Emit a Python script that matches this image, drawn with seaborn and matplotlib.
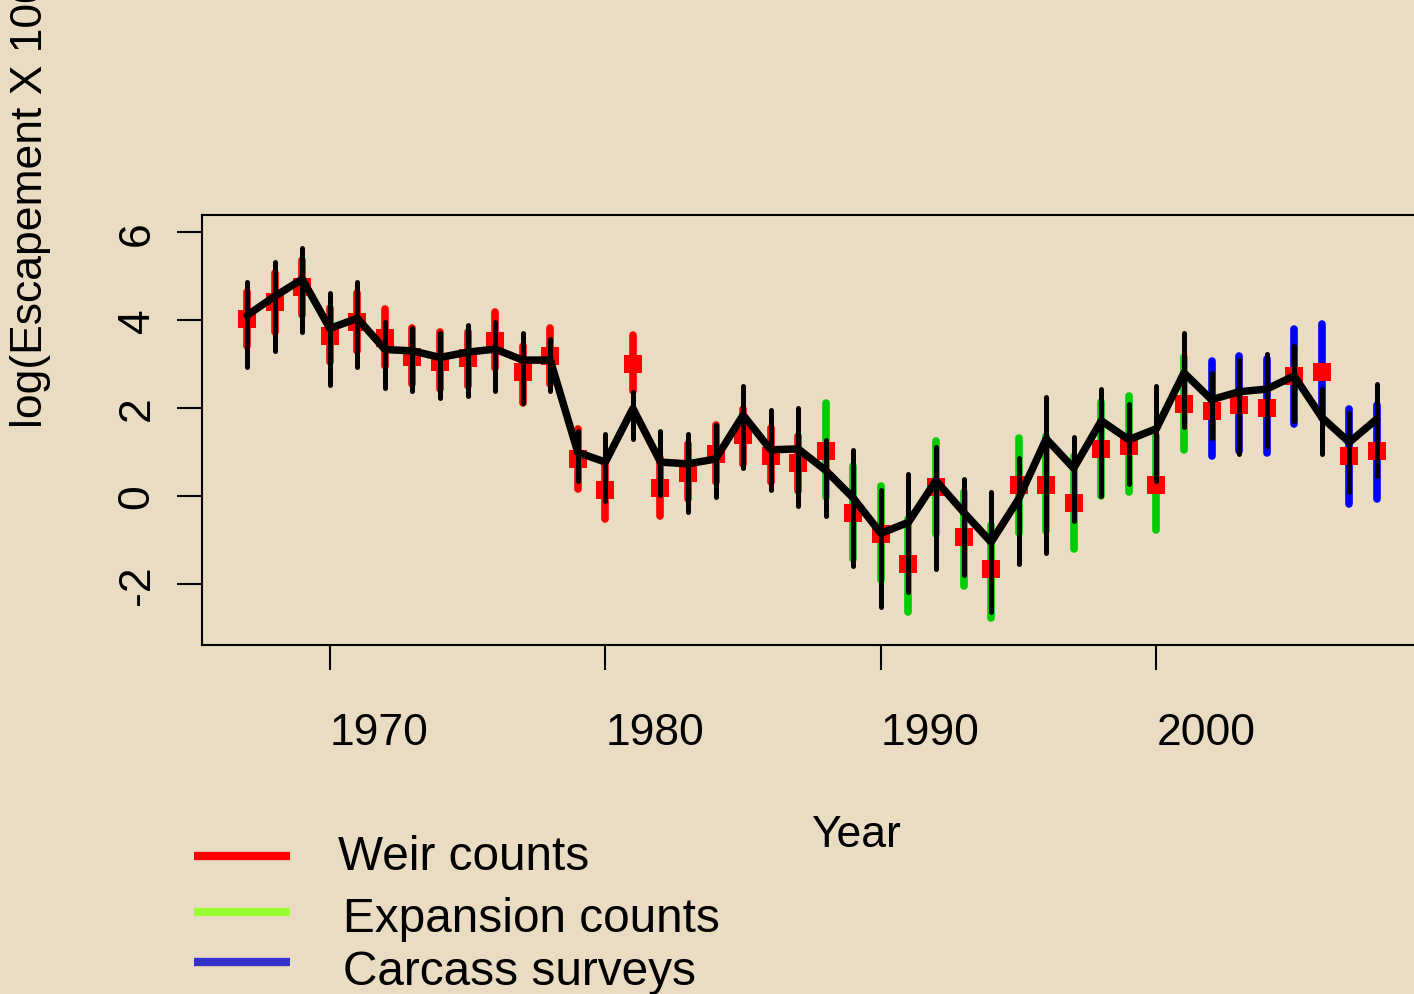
import numpy as np
import pandas as pd
import matplotlib
matplotlib.use("Agg")
import matplotlib.pyplot as plt
import seaborn as sns
from matplotlib.lines import Line2D

# ---------------- data ----------------
years = list(range(1967, 2009))

est = [4.11, 4.54, 4.93, 3.81, 4.04, 3.33, 3.30, 3.15, 3.27, 3.34, 3.09, 3.09,
       0.99, 0.77, 1.99, 0.77, 0.73, 0.84, 1.84, 1.05, 1.07, 0.58, -0.05, -0.85,
       -0.60, 0.35, -0.37, -1.05, -0.07, 1.30, 0.63, 1.71, 1.28, 1.53, 2.80, 2.19,
       2.37, 2.43, 2.73, 1.79, 1.22, 1.75]
est_lo = [2.94, 3.29, 3.72, 2.52, 2.94, 2.45, 2.39, 2.22, 2.28, 2.39, 2.11, 2.39,
          0.33, -0.11, 1.30, 0.02, -0.36, -0.03, 0.63, 0.14, -0.22, -0.46, -1.60, -2.52,
          -2.19, -1.67, -1.80, -2.64, -1.55, -1.30, -0.58, 0.01, 0.27, 0.35, 1.56, 1.31,
          0.95, 1.13, 1.71, 0.95, 0.10, 0.46]
est_hi = [4.86, 5.33, 5.63, 4.61, 4.86, 3.95, 3.82, 3.70, 3.89, 3.95, 3.70, 3.58,
          1.48, 1.41, 2.37, 1.48, 1.41, 1.61, 2.51, 1.96, 2.01, 1.28, 1.05, 0.13,
          0.50, 1.11, 0.39, 0.08, 0.86, 2.24, 1.35, 2.43, 2.09, 2.49, 3.70, 2.80,
          3.10, 3.23, 3.40, 2.43, 1.89, 2.55]

obs = [4.02, 4.42, 4.75, 3.64, 3.95, 3.59, 3.17, 3.04, 3.14, 3.53, 2.81, 3.18,
       0.84, 0.13, 2.99, 0.19, 0.52, 0.95, 1.38, 0.91, 0.75, 1.03, -0.38, -0.87,
       -1.55, 0.20, -0.94, -1.67, 0.25, 0.25, -0.16, 1.07, 1.13, 0.26, 2.09, 1.93,
       2.06, 2.01, 2.73, 2.81, 0.92, 1.03]
obs_lo = [3.42, 3.73, 4.11, 3.04, 3.30, 2.96, 2.55, 2.43, 2.51, 2.92, 2.11, 2.55,
          0.16, -0.52, 2.39, -0.45, -0.07, 0.31, 0.73, 0.31, 0.12, -0.03, -1.43, -1.92,
          -2.64, -0.86, -2.05, -2.78, -0.84, -0.79, -1.20, 0.01, 0.08, -0.77, 1.05, 0.92,
          1.03, 0.98, 1.64, 1.77, -0.18, -0.07]
obs_hi = [4.63, 5.08, 5.37, 4.27, 4.61, 4.25, 3.83, 3.72, 3.73, 4.19, 3.42, 3.83,
          1.52, 0.77, 3.66, 0.86, 1.18, 1.61, 1.98, 1.54, 1.37, 2.11, 0.69, 0.22,
          -0.52, 1.26, 0.08, -0.66, 1.31, 1.36, 0.92, 2.13, 2.28, 1.37, 3.15, 3.08,
          3.19, 3.11, 3.80, 3.91, 1.98, 2.07]

source = (["Weir counts"] * 21 + ["Expansion counts"] * 14 + ["Carcass surveys"] * 7)

legend_labels = ["Weir counts", "Expansion counts", "Carcass surveys"]
x_ticks = [1970, 1980, 1990, 2000]
y_ticks = [-2, 0, 2, 4, 6]

# ---------------- styles ----------------
bar_colors = {"Weir counts": "#FF0000", "Expansion counts": "#00CD00",
              "Carcass surveys": "#0000FF"}
legend_colors = {"Weir counts": "#FF0000", "Expansion counts": "#99FF33",
                 "Carcass surveys": "#3333CC"}
bg = "#EADCC2"

df = pd.DataFrame({"year": years, "est": est, "est_lo": est_lo, "est_hi": est_hi,
                   "obs": obs, "obs_lo": obs_lo, "obs_hi": obs_hi, "source": source})

sns.set_style("ticks")
plt.rcParams["font.family"] = ["Liberation Sans", "DejaVu Sans"]
plt.rcParams["axes.facecolor"] = bg
plt.rcParams["figure.facecolor"] = bg
plt.rcParams["text.color"] = "black"
plt.rcParams["axes.labelcolor"] = "black"
plt.rcParams["xtick.color"] = "black"
plt.rcParams["ytick.color"] = "black"
plt.rcParams["axes.unicode_minus"] = False

W, H = 1414, 995
fig = plt.figure(figsize=(W / 100, H / 100), dpi=100, facecolor=bg)
ax = fig.add_axes([202 / W, 349 / H, 1220 / W, 430 / H])
ax.set_facecolor(bg)

# coloured observation intervals
vc = ax.vlines(df["year"], df["obs_lo"], df["obs_hi"],
               colors=[bar_colors[s] for s in df["source"]], lw=5.5, zorder=2)
vc.set_capstyle("round")

# observed squares
sns.scatterplot(data=df, x="year", y="obs", marker="s", s=13.5 ** 2,
                color="#FF0000", linewidth=0, ax=ax, zorder=3, legend=False)

# estimate intervals
bc = ax.vlines(df["year"], df["est_lo"], df["est_hi"], colors="black", lw=3.6, zorder=4)
bc.set_capstyle("round")

# estimate line
sns.lineplot(data=df, x="year", y="est", color="black", lw=5.4, ax=ax, zorder=5,
             solid_joinstyle="round", solid_capstyle="round", legend=False)

ax.set_xlim(1965.36, 2009.64)
ax.set_ylim(-3.39, 6.39)
ax.set_xticks(x_ticks)
ax.set_yticks(y_ticks)
ax.set_xlabel("")
ax.set_ylabel("")
for side in ["left", "top", "bottom"]:
    ax.spines[side].set_visible(True)
    ax.spines[side].set_linewidth(1.5)
    ax.spines[side].set_color("black")
ax.spines["right"].set_visible(False)
ax.grid(False)

ax.tick_params(axis="both", direction="out", length=18, width=1.5,
               labelsize=32, colors="black")
ax.tick_params(axis="x", pad=30)
ax.tick_params(axis="y", pad=14, labelrotation=90)
for lbl in ax.get_xticklabels():
    lbl.set_ha("left")
for lbl in ax.get_yticklabels():
    lbl.set_va("center")

# axis titles
fig.text(31 / W, (H - 428) / H, "log(Escapement X 1000)", rotation=90,
         ha="center", va="bottom", fontsize=32, color="black")
fig.text(855.5 / W, (H - 847) / H, "Year", ha="center", va="baseline",
         fontsize=32, color="black")

# legend
leg_y = [857, 913, 963]
leg_text_x = [338, 343, 343]
leg_text_base = [870, 932, 985]
for lab, ly, tx, tb in zip(legend_labels, leg_y, leg_text_x, leg_text_base):
    fig.add_artist(Line2D([194 / W, 290 / W], [(H - ly) / H, (H - ly) / H],
                          color=legend_colors[lab], lw=6, solid_capstyle="butt"))
    fig.text(tx / W, (H - tb) / H, lab, ha="left", va="baseline", fontsize=34.4,
             color="black")

fig.savefig("out.png", dpi=100, facecolor=bg)
